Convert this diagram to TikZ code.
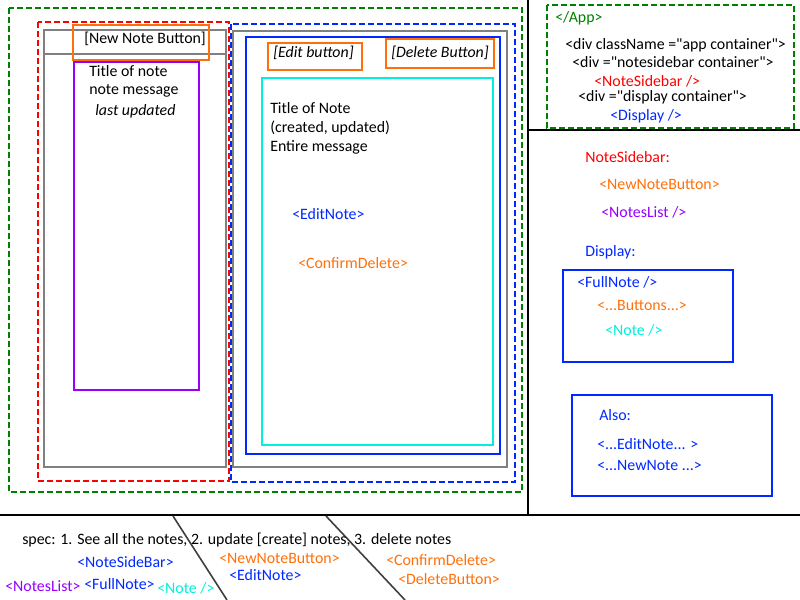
\documentclass[tikz,border=0pt]{standalone}
\usepackage{fontspec}
\setmainfont{Carlito}[Ligatures=TeXOff]
\definecolor{appgreen}{RGB}{0,128,0}
\definecolor{dispblue}{RGB}{0,40,255}
\definecolor{btnorange}{RGB}{255,112,10}
\definecolor{listpurple}{RGB}{150,0,255}
\definecolor{notecyan}{RGB}{0,240,220}
\definecolor{framegray}{RGB}{128,128,128}
\tikzset{
 lbl/.style={anchor=west, inner sep=0pt, font=\fontsize{11.9}{14}\selectfont},
 dashbox/.style={line width=1.5pt, dash pattern=on 4.5pt off 2.25pt},
 solidbox/.style={line width=1.7pt},
}

\begin{document}
\begin{tikzpicture}[x=0.75pt,y=-0.75pt]
\useasboundingbox (0,0) rectangle (800,600);
% app layout sketch
\draw[appgreen,dashbox] (9,8) rectangle (522,492);
\draw[red,dashbox] (38,22) rectangle (229,481);
\draw[dispblue,dashbox] (231,24) rectangle (515,482);
\draw[framegray,solidbox] (44,30) rectangle (226,467);
\draw[framegray,solidbox] (44,54) -- (226,54);
\draw[framegray,solidbox] (233,31) rectangle (507,467);
\draw[btnorange,solidbox] (73,25) rectangle (209,60);
\draw[listpurple,solidbox] (74,62) rectangle (199,390);
\draw[dispblue,solidbox] (246,37) rectangle (500,454);
\draw[notecyan,solidbox] (262,78) rectangle (493,445);
\draw[btnorange,solidbox] (268,43) rectangle (362,70);
\draw[btnorange,solidbox] (386,39) rectangle (494,68);

\node[lbl] (newbtn) at (84,39) {[New Note Button]};
\node[lbl] (ltitle) at (89,71) {Title of note};
\node[lbl] (lmsg) at (89,91) {note message};
\node[lbl] (lupd) at (95,111) {\itshape last updated};
\node[lbl] (editbtn) at (273,53) {\itshape [Edit button]};
\node[lbl] (delbtn) at (391,53) {\itshape [Delete Button]};
\node[lbl] (ntitle) at (270,108) {Title of Note};
\node[lbl] (ndates) at (270,128) {(created, updated)};
\node[lbl] (nmsg) at (270,147) {Entire message};
\node[lbl,text=dispblue] (editnote) at (292,214) {<EditNote>};
\node[lbl,text=btnorange] (confirm) at (298,263) {<ConfirmDelete>};

% dividers
\draw[line width=1.5pt] (528,0) -- (528,515);
\draw[line width=1.5pt] (528,130) -- (800,130);
\draw[line width=1.5pt] (0,515) -- (800,515);
\draw[black!75,line width=1.2pt] (173,516) -- (227,600);
\draw[black!75,line width=1.2pt] (326,516) -- (405,600);

% component tree
\draw[appgreen,dashbox] (547,5) rectangle (794,128);
\node[lbl,text=appgreen] (app) at (555,18) {</App>};
\node[lbl] (divapp) at (565,45) {<div className ="app container">};
\node[lbl] (divside) at (572,62) {<div ="notesidebar container">};
\node[lbl,text=red] (sidebar) at (594,81) {<NoteSidebar />};
\node[lbl] (divdisp) at (578,97) {<div ="display container">};
\node[lbl,text=dispblue] (display) at (610,116) {<Display />};

\node[lbl,text=red] (sbhead) at (585,157) {NoteSidebar:};
\node[lbl,text=btnorange] (sbnew) at (599,184) {<NewNoteButton>};
\node[lbl,text=listpurple] (sblist) at (601,212) {<NotesList />};
\node[lbl,text=dispblue] (dphead) at (585,252) {Display:};
\draw[dispblue,solidbox] (563,270) rectangle (733,362);
\node[lbl,text=dispblue] (dpfull) at (577,282) {<FullNote />};
\node[lbl,text=btnorange] (dpbtns) at (597,305) {<...Buttons...>};
\node[lbl,text=notecyan] (dpnote) at (605,330) {<Note />};
\draw[dispblue,solidbox] (572,395) rectangle (772,496);
\node[lbl,text=dispblue] (also) at (599,415) {Also:};
\node[lbl,text=dispblue] (alsoedit) at (597,444) {<...EditNote... >};
\node[lbl,text=dispblue] (alsonew) at (597,465) {<...NewNote ...>};

% spec
\node[lbl] (spec) at (22,540) {spec: 1. See all the notes, 2. update [create] notes, 3. delete notes};
\node[lbl,text=dispblue] (spside) at (77,562) {<NoteSideBar>};
\node[lbl,text=listpurple] (splist) at (5,586) {<NotesList>};
\node[lbl,text=dispblue] (spfull) at (84,584) {<FullNote>};
\node[lbl,text=notecyan] (spnote) at (157,588) {<Note />};
\node[lbl,text=btnorange] (spnew) at (219,558) {<NewNoteButton>};
\node[lbl,text=dispblue] (spedit) at (229,575) {<EditNote>};
\node[lbl,text=btnorange] (spconf) at (386,560) {<ConfirmDelete>};
\node[lbl,text=btnorange] (spdel) at (398,579) {<DeleteButton>};
\end{tikzpicture}
\end{document}
